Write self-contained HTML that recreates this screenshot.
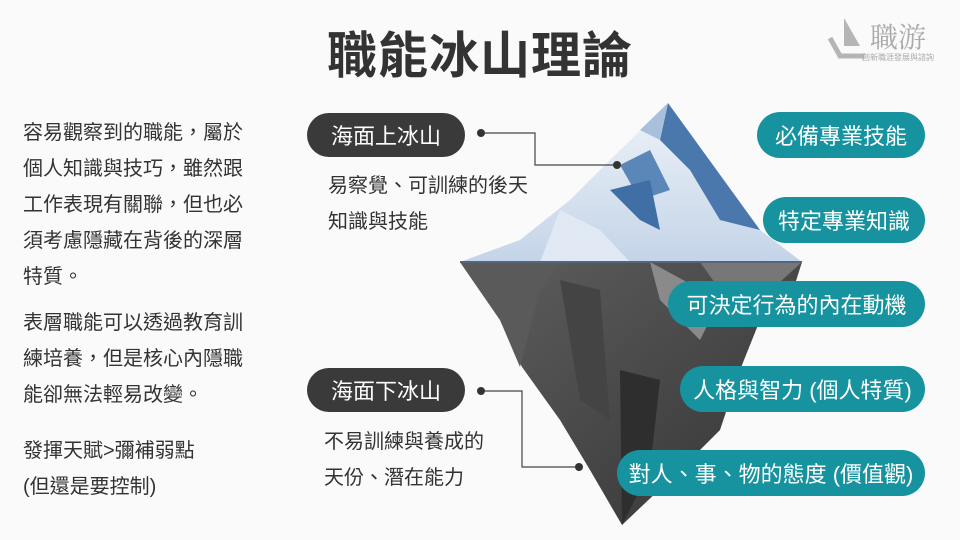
<!DOCTYPE html>
<html><head><meta charset="utf-8">
<style>
*{margin:0;padding:0;box-sizing:border-box}
body{width:960px;height:540px;background:#fafafa;position:relative;overflow:hidden;font-family:"Liberation Sans","Noto Sans CJK TC",sans-serif;color:#333}
.t{position:absolute;white-space:nowrap}
.title{left:0;width:960px;text-align:center;top:16px;font-size:50px;font-weight:bold;color:#333;letter-spacing:1px}
.para{left:23px;font-size:20px;line-height:36px;color:#333}
.pill{position:absolute;border-radius:24px;color:#fff;font-size:22px;display:flex;align-items:center;justify-content:center;white-space:nowrap}
.teal{background:#17939f}
.dark{background:#3a3a3a}
.sub{font-size:20px;line-height:36px;color:#333}
</style></head><body>
<div class="t title">職能冰山理論</div>

<div class="t" style="left:826px;top:14px;width:130px;height:50px;color:#aaa">
  <svg width="40" height="46" style="position:absolute;left:0;top:2px"><polygon points="18,2 18,30 34,30" fill="#b5b5b5"/><polyline points="4,22 14,40 38,40" fill="none" stroke="#b5b5b5" stroke-width="5"/></svg>
  <div style="position:absolute;left:44px;top:2px;font-size:28px;color:#aaa;font-family:'Noto Serif CJK SC',serif">職游</div>
  <div style="position:absolute;left:36px;top:38px;font-size:8px;color:#aaa">創新職涯發展與諮詢</div>
</div>

<div class="t para" style="top:115px">容易觀察到的職能，屬於<br>個人知識與技巧，雖然跟<br>工作表現有關聯，但也必<br>須考慮隱藏在背後的深層<br>特質。</div>
<div class="t para" style="top:305px">表層職能可以透過教育訓<br>練培養，但是核心內隱職<br>能卻無法輕易改變。</div>
<div class="t para" style="top:433px">發揮天賦&gt;彌補弱點<br>(但還是要控制)</div>

<svg width="960" height="540" style="position:absolute;left:0;top:0">
  <defs>
    <linearGradient id="ice" x1="0" y1="0" x2="0" y2="1"><stop offset="0" stop-color="#eef3f9"/><stop offset="1" stop-color="#c4d4e8"/></linearGradient>
    <linearGradient id="rock" x1="0" y1="0" x2="1" y2="1"><stop offset="0" stop-color="#5e5e5e"/><stop offset="1" stop-color="#343434"/></linearGradient>
  </defs>
  <polygon points="668,103 760,230 802,262 460,262 520,240 570,200 610,160" fill="url(#ice)"/>
  <polygon points="668,103 760,230 720,220 690,170 660,140" fill="#4a78ad"/>
  <polygon points="620,165 650,150 670,190 640,200" fill="#5a86b8"/>
  <polygon points="610,190 650,180 660,230 640,220" fill="#3f6fa5"/>
  <polygon points="668,103 660,140 640,130" fill="#a9c0dc"/>
  <polygon points="540,262 560,210 600,230 630,262" fill="#dfe8f3"/>
  <polygon points="460,262 802,262 790,300 760,320 740,370 720,430 680,470 622,525 590,470 560,420 522,367 500,320" fill="url(#rock)"/>
  <polygon points="460,262 560,262 540,290 520,367 500,320" fill="#5a5a5a"/>
  <polygon points="650,262 720,300 700,340 660,300" fill="#8a8a8a"/>
  <polygon points="560,280 600,290 610,420 580,400" fill="#444"/>
  <polygon points="620,370 660,380 650,470 622,525" fill="#2e2e2e"/>
  <polygon points="700,262 802,262 760,300 720,290" fill="#777"/>
  <line x1="460" y1="262" x2="802" y2="262" stroke="#55657a" stroke-width="2"/>
  <polyline points="481,133 535,133 535,165 617,165" fill="none" stroke="#444" stroke-width="1.2"/>
  <circle cx="481" cy="133" r="4" fill="#333"/><circle cx="617" cy="165" r="4" fill="#333"/>
  <polyline points="481,391 522,391 522,467 579,467" fill="none" stroke="#444" stroke-width="1.2"/>
  <circle cx="481" cy="391" r="4" fill="#333"/><circle cx="579" cy="467" r="4" fill="#333"/>
</svg>

<div class="pill dark" style="left:307px;top:113px;width:158px;height:44px">海面上冰山</div>
<div class="t sub" style="left:328px;top:168px">易察覺、可訓練的後天<br>知識與技能</div>
<div class="pill dark" style="left:307px;top:368px;width:158px;height:44px">海面下冰山</div>
<div class="t sub" style="left:324px;top:424px">不易訓練與養成的<br>天份、潛在能力</div>

<div class="pill teal" style="left:757px;top:112px;width:168px;height:46px">必備專業技能</div>
<div class="pill teal" style="left:763px;top:197px;width:162px;height:46px">特定專業知識</div>
<div class="pill teal" style="left:668px;top:281px;width:257px;height:46px">可決定行為的內在動機</div>
<div class="pill teal" style="left:680px;top:366px;width:245px;height:46px">人格與智力 (個人特質)</div>
<div class="pill teal" style="left:617px;top:450px;width:308px;height:46px">對人、事、物的態度 (價值觀)</div>
</body></html>
